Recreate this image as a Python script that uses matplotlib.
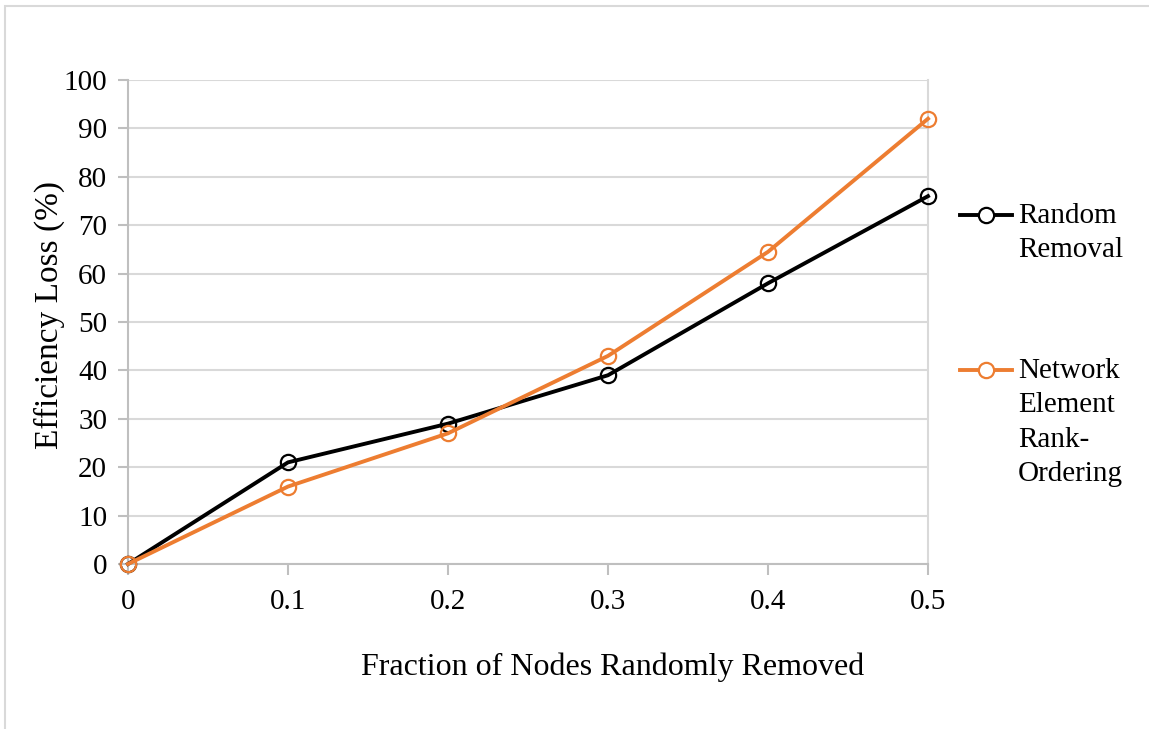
import matplotlib
matplotlib.use("Agg")
import matplotlib.pyplot as plt
from matplotlib.lines import Line2D
from matplotlib.patches import Rectangle

x_vals = [0, 0.1, 0.2, 0.3, 0.4, 0.5]
x_labels = ["0", "0.1", "0.2", "0.3", "0.4", "0.5"]
random_removal = [0, 21, 29, 39, 58, 76]
rank_ordering = [0, 16, 27, 43, 64.5, 92]
series_names = ["Random\nRemoval", "Network\nElement\nRank-\nOrdering"]
y_ticks = [0, 10, 20, 30, 40, 50, 60, 70, 80, 90, 100]

plt.rcParams['font.family'] = ['Liberation Serif', 'DejaVu Serif']

W, H = 1149, 729
fig = plt.figure(figsize=(W/100, H/100), dpi=100)
fig.patch.set_facecolor('white')

# outer frame
fig.patches.append(Rectangle((5/W, -0.1), 1.2, (H-6)/H + 0.1, transform=fig.transFigure,
                             fill=False, edgecolor='#d9d9d9', linewidth=1.5))

ax = fig.add_axes([128/W, (H-564)/H, (928-128)/W, (564-80)/H])
grid_c = '#d9d9d9'
ax.set_xlim(0, 0.5)
ax.set_ylim(0, 100)
ax.set_yticks(y_ticks)
ax.set_yticklabels([str(v) for v in y_ticks])
ax.set_xticks(x_vals)
ax.set_xticklabels(x_labels)
ax.grid(axis='y', color=grid_c, linewidth=1.5)
ax.set_axisbelow(True)
for s in ['left', 'bottom']:
    ax.spines[s].set_color('#bfbfbf')
    ax.spines[s].set_linewidth(1.5)
ax.spines['top'].set_visible(False)
ax.spines['right'].set_color(grid_c)
ax.spines['right'].set_linewidth(1.5)
ax.tick_params(axis='y', length=7, width=1.5, color='#bfbfbf', labelsize=21, pad=8, direction='out')
ax.tick_params(axis='x', length=8, width=1.5, color='#bfbfbf', labelsize=21, pad=10, direction='out')

common = dict(linewidth=2.8, marker='o', markersize=11, markerfacecolor='none',
              markeredgewidth=1.6, clip_on=False, zorder=3)
l1, = ax.plot(x_vals, random_removal, color='black', markeredgecolor='black', **common)
l2, = ax.plot(x_vals, rank_ordering, color='#ed7d31', markeredgecolor='#ed7d31', **common)

ax.set_ylabel("Efficiency Loss (%)", fontsize=24, labelpad=-1)
ax.yaxis.label.set_y((564 - 315) / 484)
ax.set_xlabel("Fraction of Nodes Randomly Removed", fontsize=23, labelpad=27)
ax.xaxis.label.set_x((613 - 128) / 800)

# legend
for (y_line, name, color) in [(215, series_names[0], 'black'), (370, series_names[1], '#ed7d31')]:
    yl = (H - y_line)/H
    fig.add_artist(Line2D([960/W, 1012/W], [yl, yl], transform=fig.transFigure,
                          color=color, linewidth=2.8))
    fig.add_artist(Line2D([986/W], [yl], transform=fig.transFigure, color=color,
                          marker='o', markersize=11, markerfacecolor='white',
                          markeredgecolor=color, markeredgewidth=1.6))
    fig.text(1018/W, (H - y_line + 12)/H, name, fontsize=21, va='top', ha='left',
             linespacing=1.42)

fig.savefig("out.png", dpi=100, facecolor='white')
